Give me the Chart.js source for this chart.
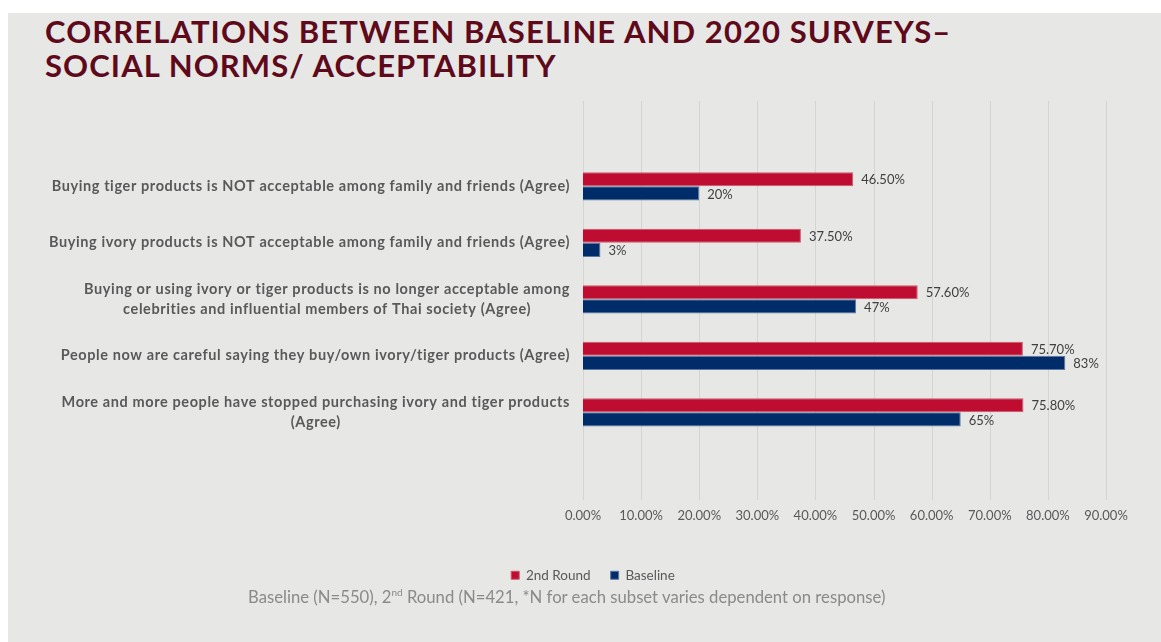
<!DOCTYPE html>
<html>
<head>
<meta charset="utf-8">
<script src="https://cdn.jsdelivr.net/npm/chart.js@4.4.1/dist/chart.umd.min.js"></script>
<style>
  html, body { margin: 0; padding: 0; background: #ffffff; }
  body { width: 1161px; height: 642px; position: relative; overflow: hidden; font-family: Lato, "Open Sans", sans-serif; }
  #panel { position: absolute; left: 8px; top: 13px; right: 0; bottom: 0; background: #e7e7e6; }
  #title { position: absolute; left: 45px; top: 14px; margin: 0; font: bold 31px/34px Lato, sans-serif; letter-spacing: 1.1px; color: #5e0a1b; white-space: nowrap; }
  #note { position: absolute; left: 248px; top: 587px; font: 16.7px/20px Lato, sans-serif; color: #8a8a8a; white-space: nowrap; }
  #note sup { font-size: 10px; line-height: 0; }
  #chart { position: absolute; left: 0; top: 0; }
</style>
</head>
<body>
<div id="panel"></div>
<h1 id="title">CORRELATIONS BETWEEN BASELINE AND 2020 SURVEYS–<br>SOCIAL NORMS/ ACCEPTABILITY</h1>
<canvas id="chart" width="1161" height="600"></canvas>
<div id="note">Baseline (N=550), 2<sup>nd</sup> Round (N=421, *N for each subset varies dependent on response)</div>

<script>
document.addEventListener("DOMContentLoaded", function () {

    // DATOS
    const categorias = [
        'Buying tiger products is NOT acceptable among family and friends (Agree)',
        'Buying ivory products is NOT acceptable among family and friends (Agree)',
        ['Buying or using ivory or tiger products is no longer acceptable among', 'celebrities and influential members of Thai society (Agree)'],
        'People now are careful saying they buy/own ivory/tiger products (Agree)',
        ['More and more people have stopped purchasing ivory and tiger products', '(Agree)']
    ];
    const segundaRonda = [46.5, 37.5, 57.6, 75.7, 75.8];
    const lineaBase = [20, 3, 47, 83, 65];
    const ticksX = [0, 10, 20, 30, 40, 50, 60, 70, 80, 90];

    const gris = '#595959';

    // rejilla vertical mas larga que el area del grafico
    const rejilla = {
        id: 'rejilla',
        beforeDatasetsDraw(chart) {
            const c = chart.ctx;
            const x = chart.scales.x;
            c.save();
            c.strokeStyle = '#d4d4d3';
            c.lineWidth = 1;
            ticksX.forEach(function (v) {
                const px = Math.round(x.getPixelForValue(v)) + 0.5;
                c.beginPath();
                c.moveTo(px, 101);
                c.lineTo(px, 500);
                c.stroke();
            });
            c.restore();
        }
    };

    // etiquetas del eje Y, lineas centradas y bloque alineado a la derecha
    const etiquetasY = {
        id: 'etiquetasY',
        afterDraw(chart) {
            const c = chart.ctx;
            const y = chart.scales.y;
            c.save();
            c.font = 'bold 14.5px Lato, sans-serif';
            c.letterSpacing = '0.6px';
            c.fillStyle = gris;
            c.textAlign = 'center';
            c.textBaseline = 'middle';
            const derecha = chart.chartArea.left - 13;
            categorias.forEach(function (lab, i) {
                const lineas = Array.isArray(lab) ? lab : [lab];
                const ancho = Math.max.apply(null, lineas.map(l => c.measureText(l).width));
                const cy = y.getPixelForValue(i);
                const alto = 19.5;
                lineas.forEach(function (l, j) {
                    c.fillText(l, derecha - ancho / 2, cy + (j - (lineas.length - 1) / 2) * alto);
                });
            });
            c.restore();
        }
    };

    // valores al final de cada barra
    const valores = {
        id: 'valores',
        afterDatasetsDraw(chart) {
            const c = chart.ctx;
            c.save();
            c.font = '13px Lato, sans-serif';
            c.fillStyle = '#404040';
            c.textAlign = 'left';
            c.textBaseline = 'middle';
            chart.data.datasets.forEach(function (ds, d) {
                chart.getDatasetMeta(d).data.forEach(function (bar, i) {
                    const v = ds.data[i];
                    const txt = ds.decimales ? v.toFixed(2) + '%' : v + '%';
                    c.fillText(txt, bar.x + 8, bar.y + 1);
                });
            });
            c.restore();
        }
    };

    const ctx = document.getElementById('chart');

    new Chart(ctx, {
        type: 'bar',
        data: {
            labels: categorias,
            datasets: [{
                label: '2nd Round',
                data: segundaRonda,
                backgroundColor: '#be0d31',
                borderColor: '#c9596c',
                borderWidth: 1,
                decimales: true
            }, {
                label: 'Baseline',
                data: lineaBase,
                backgroundColor: '#002d69',
                borderColor: '#5a78a0',
                borderWidth: 1,
                decimales: false
            }]
        },
        options: {
            indexAxis: 'y',
            responsive: false,
            animation: false,
            devicePixelRatio: 1,
            barPercentage: 1,
            categoryPercentage: 0.5,
            layout: {
                padding: { left: 80, right: 55, top: 158, bottom: 8 }
            },
            scales: {
                x: {
                    min: 0,
                    max: 90,
                    grid: { display: false, drawTicks: true, tickLength: 64 },
                    border: { display: false },
                    ticks: {
                        stepSize: 10,
                        padding: 4,
                        color: gris,
                        font: { family: 'Lato', size: 13 },
                        callback: v => v.toFixed(2) + '%'
                    },
                    afterFit: s => { s.height = 108; }
                },
                y: {
                    grid: { display: false },
                    border: { display: false },
                    ticks: { display: false },
                    afterFit: s => { s.width = 503; }
                }
            },
            plugins: {
                legend: {
                    position: 'bottom',
                    labels: {
                        boxWidth: 8,
                        boxHeight: 8,
                        padding: 20,
                        color: gris,
                        font: { family: 'Lato', size: 13.5 }
                    }
                },
                tooltip: { enabled: false }
            }
        },
        plugins: [rejilla, etiquetasY, valores]
    });

});
</script>
</body>
</html>
